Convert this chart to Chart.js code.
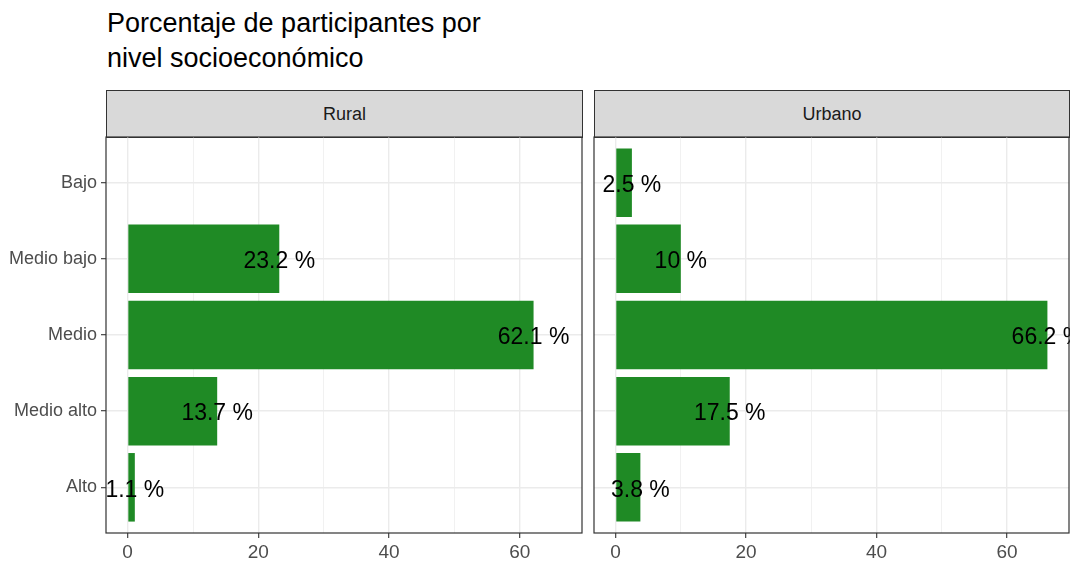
<!DOCTYPE html>
<html>
<head>
<meta charset="utf-8">
<script src="https://cdn.jsdelivr.net/npm/chart.js@4/dist/chart.umd.min.js"></script>
<style>
  body { margin: 0; background: #fff; }
  #lienzo { position: relative; width: 1070px; height: 567px; overflow: hidden; background: #fff;
            font-family: 'Liberation Sans', Arial, sans-serif; }
  #titulo { position: absolute; left: 107px; top: 6px; font-size: 27px; line-height: 35px; color: #000; }
  .tira { position: absolute; top: 90px; height: 48px; box-sizing: border-box; border: 1.2px solid #333;
          background: #d9d9d9; color: #1a1a1a; font-size: 18px; text-align: center; line-height: 46px; }
  canvas { position: absolute; top: 135px; }
</style>
</head>
<body>
<div id="lienzo">
  <div id="titulo">Porcentaje de participantes por<br>nivel socioeconómico</div>
  <div class="tira" style="left:106px;width:477px">Rural</div>
  <div class="tira" style="left:594px;width:476px">Urbano</div>
  <canvas id="graficoRural" width="590" height="432" style="left:0px"></canvas>
  <canvas id="graficoUrbano" width="484" height="432" style="left:586px"></canvas>
</div>
<script>
const categorias = ["Bajo", "Medio bajo", "Medio", "Medio alto", "Alto"]
const rural = [null, 23.2, 62.1, 13.7, 1.1]
const urbano = [2.5, 10, 66.2, 17.5, 3.8]
const marcasX = [0, 10, 20, 30, 40, 50, 60]

const fuente = "'Liberation Sans', Arial, sans-serif"

// etiquetas de porcentaje centradas en la punta de cada barra
const etiquetas = {
  id: 'etiquetas',
  afterDatasetsDraw(chart) {
    const ctx = chart.ctx
    const meta = chart.getDatasetMeta(0)
    ctx.save()
    ctx.font = '23px ' + fuente
    ctx.fillStyle = '#000'
    ctx.textAlign = 'center'
    ctx.textBaseline = 'middle'
    meta.data.forEach((barra, i) => {
      const v = chart.data.datasets[0].data[i].x
      if (v == null) return
      ctx.fillText(`${v} %`, barra.x, barra.y + 3)
    })
    ctx.restore()
  }
}

// borde del panel
const borde = {
  id: 'borde',
  afterDraw(chart) {
    const a = chart.chartArea
    const ctx = chart.ctx
    ctx.save()
    ctx.strokeStyle = '#333'
    ctx.lineWidth = 1.2
    ctx.strokeRect(a.left, a.top, a.right - a.left, a.bottom - a.top)
    ctx.restore()
  }
}

function crearGrafico(id, valores, conEtiquetasY, relleno) {
  return new Chart(document.getElementById(id), {
    type: 'bar',
    data: {
      datasets: [{
        data: categorias.map((c, i) => ({ x: valores[i], y: i })),
        backgroundColor: '#1f8a25',
        borderWidth: 0,
        barPercentage: 0.9,
        categoryPercentage: 1
      }]
    },
    options: {
      indexAxis: 'y',
      responsive: false,
      animation: false,
      devicePixelRatio: 1,
      layout: { padding: relleno },
      plugins: { legend: { display: false }, tooltip: { enabled: false } },
      scales: {
        x: {
          type: 'linear',
          min: -3.31,
          max: 69.51,
          afterBuildTicks: (s) => { s.ticks = marcasX.map(v => ({ value: v })) },
          afterFit: (s) => { s.height = 34; s.paddingLeft = 0; s.paddingRight = 0 },
          border: { display: false },
          grid: {
            color: '#ebebeb',
            lineWidth: (c) => c.tick && c.tick.value % 20 === 0 ? 1.4 : 0.7,
            tickColor: (c) => c.tick && c.tick.value % 20 === 0 ? '#333' : 'rgba(0,0,0,0)',
            tickLength: 5,
            tickWidth: 1.1
          },
          ticks: {
            autoSkip: false,
            maxRotation: 0,
            padding: 3,
            color: '#4d4d4d',
            font: { family: fuente, size: 19 },
            callback: (v) => v % 20 === 0 ? String(v) : ''
          }
        },
        y: {
          type: 'linear',
          min: -0.6,
          max: 4.6,
          reverse: true,
          offset: false,
          afterBuildTicks: (s) => { s.ticks = categorias.map((c, i) => ({ value: i })) },
          afterFit: (s) => { s.width = conEtiquetasY ? 106 : 8; s.paddingTop = 0; s.paddingBottom = 0 },
          border: { display: false },
          grid: {
            offset: false,
            color: '#ebebeb',
            lineWidth: 1.4,
            drawTicks: conEtiquetasY,
            tickColor: '#333',
            tickLength: 5,
            tickWidth: 1.1
          },
          ticks: {
            display: conEtiquetasY,
            autoSkip: false,
            padding: 4,
            color: '#4d4d4d',
            font: { family: fuente, size: 18 },
            callback: (v) => categorias[v]
          }
        }
      }
    },
    plugins: [etiquetas, borde]
  })
}

crearGrafico('graficoRural', rural, true, { top: 2, right: 8, left: 0, bottom: 0 })
crearGrafico('graficoUrbano', urbano, false, { top: 2, right: 1, left: 0, bottom: 0 })
</script>
</body>
</html>
